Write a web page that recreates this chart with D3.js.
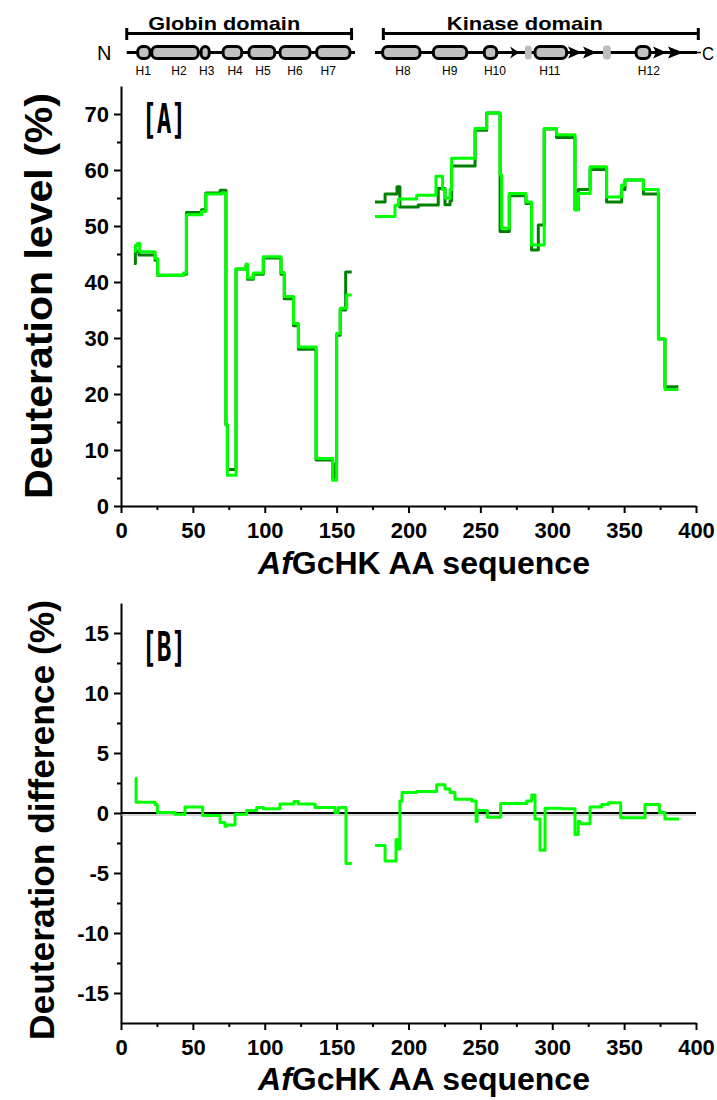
<!DOCTYPE html>
<html><head><meta charset="utf-8">
<script src="https://cdn.jsdelivr.net/npm/d3@7"></script>
<style>body{margin:0;background:#fff} svg{display:block;font-family:"Liberation Sans",Arial,sans-serif}</style>
</head><body><svg id="c" width="717" height="1100"></svg>
<script>
// ---------- data ----------
const xMajorTicks = [0,50,100,150,200,250,300,350,400];
const xMinorTicks = [25,75,125,175,225,275,325,375];
const yTicksA = [0,10,20,30,40,50,60,70];
const yMinorA = [5,15,25,35,45,55,65];
const yTicksB = [-15,-10,-5,0,5,10,15];
const yMinorB = [-12.5,-7.5,-2.5,2.5,7.5,12.5];

// panel A: deuteration level (%) vs residue (step data: [residue, value])
const darkGlobin = [[9,43.3],[10,45.5],[12.5,44.8],[23.7,43.9],[25.5,41.2],[43.4,41.4],[45.5,52.4],[56,52.9],[59,55.9],[69,56.4],[73,14.5],[74,6.5],[80,42.3],[87,43],[88,40.5],[92,41.4],[99,44.3],[111.3,41.4],[113.6,37.0],[120,32.2],[123.4,28.0],[135.7,8.2],[147.3,4.8],[149,7.5],[150,30.5],[152.5,35.0],[156.3,41.8],[160.5,41.8]];
const lightGlobin = [[9,45.5],[10,46.5],[11.5,46.9],[13,45.4],[23.7,44.2],[25.5,41.2],[43.4,41.6],[45.5,52.0],[56,52.6],[59,55.7],[70,55.9],[73,14.5],[74,5.5],[80,42.3],[87,43.2],[88,40.7],[92,41.6],[99,44.5],[111.3,41.7],[113.6,37.4],[120,32.6],[123.4,28.4],[135.7,8.5],[147.3,4.6],[150,30.8],[152.5,35.3],[157,37.7],[160.5,37.7]];
const darkKinase = [[176.7,54.3],[183.7,55.7],[192,57.0],[194,53.4],[206.8,53.75],[220.7,56.7],[225.4,53.8],[228.9,54.5],[230,60.7],[246.3,67.1],[254.4,70.2],[263.7,49.0],[270.1,55.4],[281.7,54.0],[285.6,45.7],[290.3,50.2],[294.4,67.3],[303,65.8],[315.8,52.9],[318.1,56.5],[326.3,60.1],[337.8,54.3],[348.3,56.5],[350.6,58.2],[363.4,55.7],[374,29.8],[378.4,21.3],[387.7,21.3]];
const lightKinase = [[176.7,51.7],[190.6,53.7],[193,54.8],[205.7,55.5],[219.1,58.9],[223.7,56.5],[225.4,55.0],[228.9,56.5],[230,62.1],[246.3,67.4],[254.4,70.2],[263.7,59.1],[264.8,49.6],[270.1,55.8],[281.7,54.3],[285.6,46.6],[294.4,67.4],[303,66.3],[315.8,52.9],[318.1,55.8],[326.3,60.6],[337.8,55.2],[348.3,57.3],[350.6,58.2],[363.4,56.5],[373.8,29.8],[378.4,20.8],[387.7,20.8]];

// panel B: deuteration difference (%)
const diffGlobin = [[9.7,2.9],[10.5,0.9],[23.7,0.7],[25.3,0.05],[37.6,-0.1],[44.5,0.5],[56.8,-0.2],[68.9,-0.8],[72.3,-1.1],[73.5,-1.0],[79.3,-0.1],[87.4,0.2],[94.4,0.45],[99,0.35],[110.6,0.75],[120.3,0.95],[123.3,0.75],[135,0.45],[148.9,0.05],[151.2,0.45],[156.5,-4.2],[160.5,-4.2]];
const diffKinase = [[176.7,-2.7],[183.7,-4.0],[191.3,-2.2],[193,-3.0],[194,1.0],[195.5,1.7],[205.7,1.8],[219.6,2.35],[225.4,2.0],[228.9,1.7],[232.3,1.15],[244,1.0],[247,-0.7],[247.7,0.2],[254.8,-0.35],[264.1,0.8],[282.2,1.0],[285.7,1.5],[288,-0.5],[291.5,-3.1],[295,0.4],[306.6,0.35],[315.8,-1.8],[318.1,-0.7],[319.3,-0.9],[326.3,0.5],[334.4,0.7],[339,0.85],[347.6,-0.4],[364.5,0.7],[374.5,0.05],[378.4,-0.5],[388.4,-0.5]];

// domain diagram (residue units)
const domainNames = ["Globin domain","Kinase domain"];
const domainStart = [4,182.5];
const domainEnd = [160.4,401.6];
const backboneStart = [4,176.7];
const backboneEnd = [162.8,400.7];
const helixNames = ["H1","H2","H3","H4","H5","H6","H7","H8","H9","H10","H11","H12"];
const helixStart = [11.6,21.4,55.7,71,89,110.6,136.1,182,217.3,252.7,288,358.3];
const helixEnd   = [20.2,53.8,61.4,84,107,131.5,159.3,208,240.5,261.4,310,368];
const helixLabelPos = [15.5,40.3,59.6,79.4,98.8,121,144.2,196.1,228.7,260.1,298.3,367.2];
const strandStart = [270.6,311,321.4,370.1,380.5];
const strandEnd   = [277,320.5,330.9,379.6,391.2];
const loopStart = [281,335.3];
const loopEnd   = [285.7,340.7];

// ---------- drawing ----------
const svg = d3.select("#c");
const x = d3.scaleLinear().domain([0,400]).range([121,696]);
const yA = d3.scaleLinear().domain([0,75]).range([506,86]);
const yB = d3.scaleLinear().domain([-17.5,17.5]).range([1023,603]);
const FONT = '"Liberation Sans",Arial,sans-serif';
const fmt = d => String(d);

function axes(y, yMaj, yMin) {
  const gx = svg.append("g").attr("transform",`translate(0,${y.range()[0]})`);
  gx.call(d3.axisBottom(x).tickValues(xMajorTicks).tickFormat(fmt).tickSize(7).tickSizeOuter(0).tickPadding(6));
  const gxm = svg.append("g").attr("transform",`translate(0,${y.range()[0]})`);
  gxm.call(d3.axisBottom(x).tickValues(xMinorTicks).tickSize(4).tickFormat("").tickSizeOuter(0));
  const gy = svg.append("g").attr("transform",`translate(${x(0)},0)`);
  gy.call(d3.axisLeft(y).tickValues(yMaj).tickFormat(fmt).tickSize(7).tickSizeOuter(0).tickPadding(5));
  const gym = svg.append("g").attr("transform",`translate(${x(0)},0)`);
  gym.call(d3.axisLeft(y).tickValues(yMin).tickSize(4).tickFormat("").tickSizeOuter(0));
  [gx,gxm,gy,gym].forEach(g=>{
    g.selectAll("path").attr("stroke","#000").attr("stroke-width",2);
    g.selectAll("line").attr("stroke","#000").attr("stroke-width",2);
    g.selectAll("text").attr("fill","#000").attr("font-family",FONT).attr("font-weight","bold").attr("font-size",22);
  });
  gx.selectAll("text").attr("dy","0.85em");
  gym.select(".domain").remove(); gxm.select(".domain").remove();
}

axes(yA, yTicksA, yMinorA);
axes(yB, yTicksB, yMinorB);

// x titles
function xTitle(yBase) {
  const t = svg.append("text").attr("x",424).attr("y",yBase).attr("text-anchor","middle")
    .attr("font-family",FONT).attr("font-weight","bold").attr("font-size",32).attr("fill","#000");
  t.append("tspan").attr("font-style","italic").text("Af");
  t.append("tspan").text("GcHK AA sequence");
}
xTitle(574);
xTitle(1090);

// y titles
svg.append("text").attr("transform",`translate(52,296) rotate(-90)`).attr("text-anchor","middle")
  .attr("font-family",FONT).attr("font-weight","bold").attr("font-size",38).attr("fill","#000")
  .attr("textLength",406).attr("lengthAdjust","spacingAndGlyphs").text("Deuteration level (%)");
svg.append("text").attr("transform",`translate(54,820) rotate(-90)`).attr("text-anchor","middle")
  .attr("font-family",FONT).attr("font-weight","bold").attr("font-size",35).attr("fill","#000")
  .attr("textLength",440).attr("lengthAdjust","spacingAndGlyphs").text("Deuteration difference (%)");

// panel labels
[["[A]",133],["[B]",661]].forEach(([t,yy])=>{
  svg.append("text").attr("x",142).attr("y",yy).attr("font-family","'DejaVu Sans Mono',monospace")
    .attr("font-weight","bold").attr("font-size",40).attr("textLength",44).attr("lengthAdjust","spacingAndGlyphs")
    .attr("fill","#000").text(t);
});

// zero line in B
svg.append("line").attr("x1",x(0)).attr("x2",x(400)).attr("y1",yB(0)+2).attr("y2",yB(0)+2).attr("stroke","#aaa").attr("stroke-width",1);
svg.append("line").attr("x1",x(0)).attr("x2",x(400)).attr("y1",yB(0)).attr("y2",yB(0)).attr("stroke","#000").attr("stroke-width",2);

// data lines
const lineA = d3.line().x(d=>x(d[0])).y(d=>yA(d[1])).curve(d3.curveStepAfter);
const lineB = d3.line().x(d=>x(d[0])).y(d=>yB(d[1])).curve(d3.curveStepAfter);
[darkGlobin,darkKinase].forEach(s=>svg.append("path").attr("d",lineA(s)).attr("fill","none").attr("stroke","#008000").attr("stroke-width",3).attr("stroke-linejoin","round"));
[lightGlobin,lightKinase].forEach(s=>svg.append("path").attr("d",lineA(s)).attr("fill","none").attr("stroke","#00ff00").attr("stroke-width",3).attr("stroke-linejoin","round"));
[diffGlobin,diffKinase].forEach(s=>svg.append("path").attr("d",lineB(s)).attr("fill","none").attr("stroke","#00ff00").attr("stroke-width",3).attr("stroke-linejoin","round"));

// ---------- domain diagram ----------
const dg = svg.append("g");
const bbY = 52.5;
domainNames.forEach((n,i)=>{
  const x0 = x(domainStart[i]), x1 = x(domainEnd[i]);
  dg.append("line").attr("x1",x0).attr("x2",x1).attr("y1",33.5).attr("y2",33.5).attr("stroke","#000").attr("stroke-width",3);
  [x0,x1].forEach(xx=>dg.append("line").attr("x1",xx).attr("x2",xx).attr("y1",28).attr("y2",40).attr("stroke","#000").attr("stroke-width",3));
  dg.append("text").attr("x",(x0+x1)/2 + (i===0?-15:-16)).attr("y",29.5).attr("text-anchor","middle")
    .attr("font-family",FONT).attr("font-weight","bold").attr("font-size",19)
    .attr("textLength",i===0?152:156).attr("lengthAdjust","spacingAndGlyphs").text(n);
  dg.append("line").attr("x1",x(backboneStart[i])).attr("x2",x(backboneEnd[i])).attr("y1",bbY).attr("y2",bbY).attr("stroke","#000").attr("stroke-width",3);
});
dg.append("text").attr("x",97).attr("y",60).attr("font-family",FONT).attr("font-size",20).text("N");
dg.append("line").attr("x1",x(backboneEnd[1])).attr("x2",x(backboneEnd[1])+4).attr("y1",bbY).attr("y2",bbY).attr("stroke","#000").attr("stroke-width",1.5);
dg.append("text").attr("x",702).attr("y",59.5).attr("font-family",FONT).attr("font-size",18)
  .attr("textLength",12).attr("lengthAdjust","spacingAndGlyphs").text("C");
loopStart.forEach((s,i)=>{
  dg.append("rect").attr("x",x(s)).attr("y",bbY-7).attr("width",x(loopEnd[i])-x(s)).attr("height",14).attr("rx",3)
    .attr("fill","#bdbdbd");
});
helixStart.forEach((s,i)=>{
  dg.append("rect").attr("x",x(s)).attr("y",bbY-6).attr("width",x(helixEnd[i])-x(s)).attr("height",12).attr("rx",5)
    .attr("fill","#c0c0c0").attr("stroke","#000").attr("stroke-width",3);
  dg.append("text").attr("x",x(helixLabelPos[i])).attr("y",75).attr("text-anchor","middle")
    .attr("font-family",FONT).attr("font-size",12).text(helixNames[i]);
});
strandStart.forEach((s,i)=>{
  const a = x(s), b = x(strandEnd[i]);
  dg.append("path").attr("d",`M${a},${bbY-6} L${b},${bbY} L${a},${bbY+6} L${a+3},${bbY} Z`).attr("fill","#000");
});
</script></body></html>
